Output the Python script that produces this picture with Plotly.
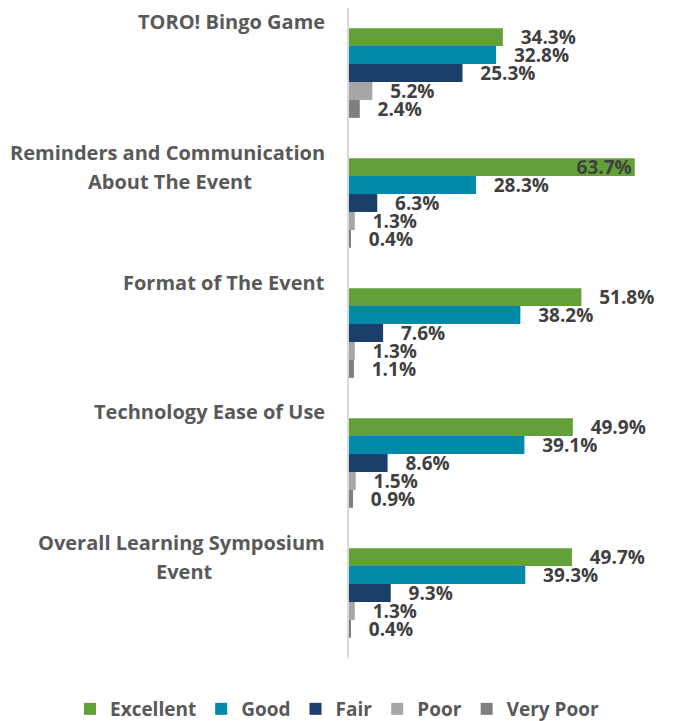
import plotly.graph_objects as go

categories = [
    "TORO! Bingo Game",
    "Reminders and Communication<br>About The Event",
    "Format of The Event",
    "Technology Ease of Use",
    "Overall Learning Symposium<br>Event",
]
cat_keys = ["c1", "c2", "c3", "c4", "c5"]
series_names = ["Excellent", "Good", "Fair", "Poor", "Very Poor"]
excellent = [34.3, 63.7, 51.8, 49.9, 49.7]
good = [32.8, 28.3, 38.2, 39.1, 39.3]
fair = [25.3, 6.3, 7.6, 8.6, 9.3]
poor = [5.2, 1.3, 1.3, 1.5, 1.3]
very_poor = [2.4, 0.4, 1.1, 0.9, 0.4]
series_values = [excellent, good, fair, poor, very_poor]
colors = ["#62A03A", "#0089A8", "#1A3F6B", "#A6A6A6", "#7F7F7F"]

# page has an 8px body margin; positions below are in figure pixels
W, H = 670, 713
ML, MR, MT, MB = 341, 15, 0, 63
PW, PH = W - ML - MR, H - MT - MB
XMAX = 70
LBL_FONT = dict(family="Open Sans", size=19, color="#404040", weight="bold")

fig = go.Figure()
for name, vals, col in zip(series_names, series_values, colors):
    pos = ["inside" if v > 60 else "outside" for v in vals]
    txt = [f"{v:.1f}%" if v > 60 else f"\u00a0\u00a0\u00a0{v:.1f}%" for v in vals]
    fig.add_trace(go.Bar(
        y=cat_keys, x=vals, name=name, orientation="h",
        marker=dict(color=col, line=dict(width=0)),
        text=txt, textposition=pos, insidetextanchor="end",
        textfont=LBL_FONT, insidetextfont=LBL_FONT, outsidetextfont=LBL_FONT,
        constraintext="none", cliponaxis=False,
    ))

annotations = []
band = PH / len(categories)
cat_font = dict(family="Open Sans", size=20, color="#595959", weight="bold")
for i, cat in enumerate(categories):
    lines = cat.split("<br>")
    top = band * i
    annotations.append(dict(
        text=lines[0], xref="paper", yref="paper",
        x=(319 - ML) / PW, y=1 - (top + 14) / PH,
        xanchor="right", yanchor="middle", showarrow=False, font=cat_font,
    ))
    if len(lines) > 1:
        cx = {1: 162, 4: 176}[i]
        annotations.append(dict(
            text=lines[1], xref="paper", yref="paper",
            x=(cx - ML) / PW, y=1 - (top + 43) / PH,
            xanchor="center", yanchor="middle", showarrow=False, font=cat_font,
        ))

fig.update_layout(
    width=W, height=H,
    margin=dict(l=ML, r=MR, t=MT, b=MB, autoexpand=False),
    paper_bgcolor="white", plot_bgcolor="white",
    barmode="group", bargap=0.31, bargroupgap=0,
    font=dict(family="Open Sans", color="#595959"),
    xaxis=dict(range=[0, XMAX], visible=False, showgrid=False, zeroline=False),
    yaxis=dict(autorange="reversed", showticklabels=False, showgrid=False,
               zeroline=False, showline=True, linecolor="#D9D9D9", linewidth=2,
               ticks=""),
    legend=dict(orientation="h", x=(62 - ML) / PW, xanchor="left",
                y=-51 / PH, yanchor="middle",
                font=dict(family="Open Sans", size=19, color="#595959", weight="bold"),
                traceorder="normal", itemwidth=30),
    annotations=annotations,
    showlegend=True,
)

fig.write_html("out.html")
